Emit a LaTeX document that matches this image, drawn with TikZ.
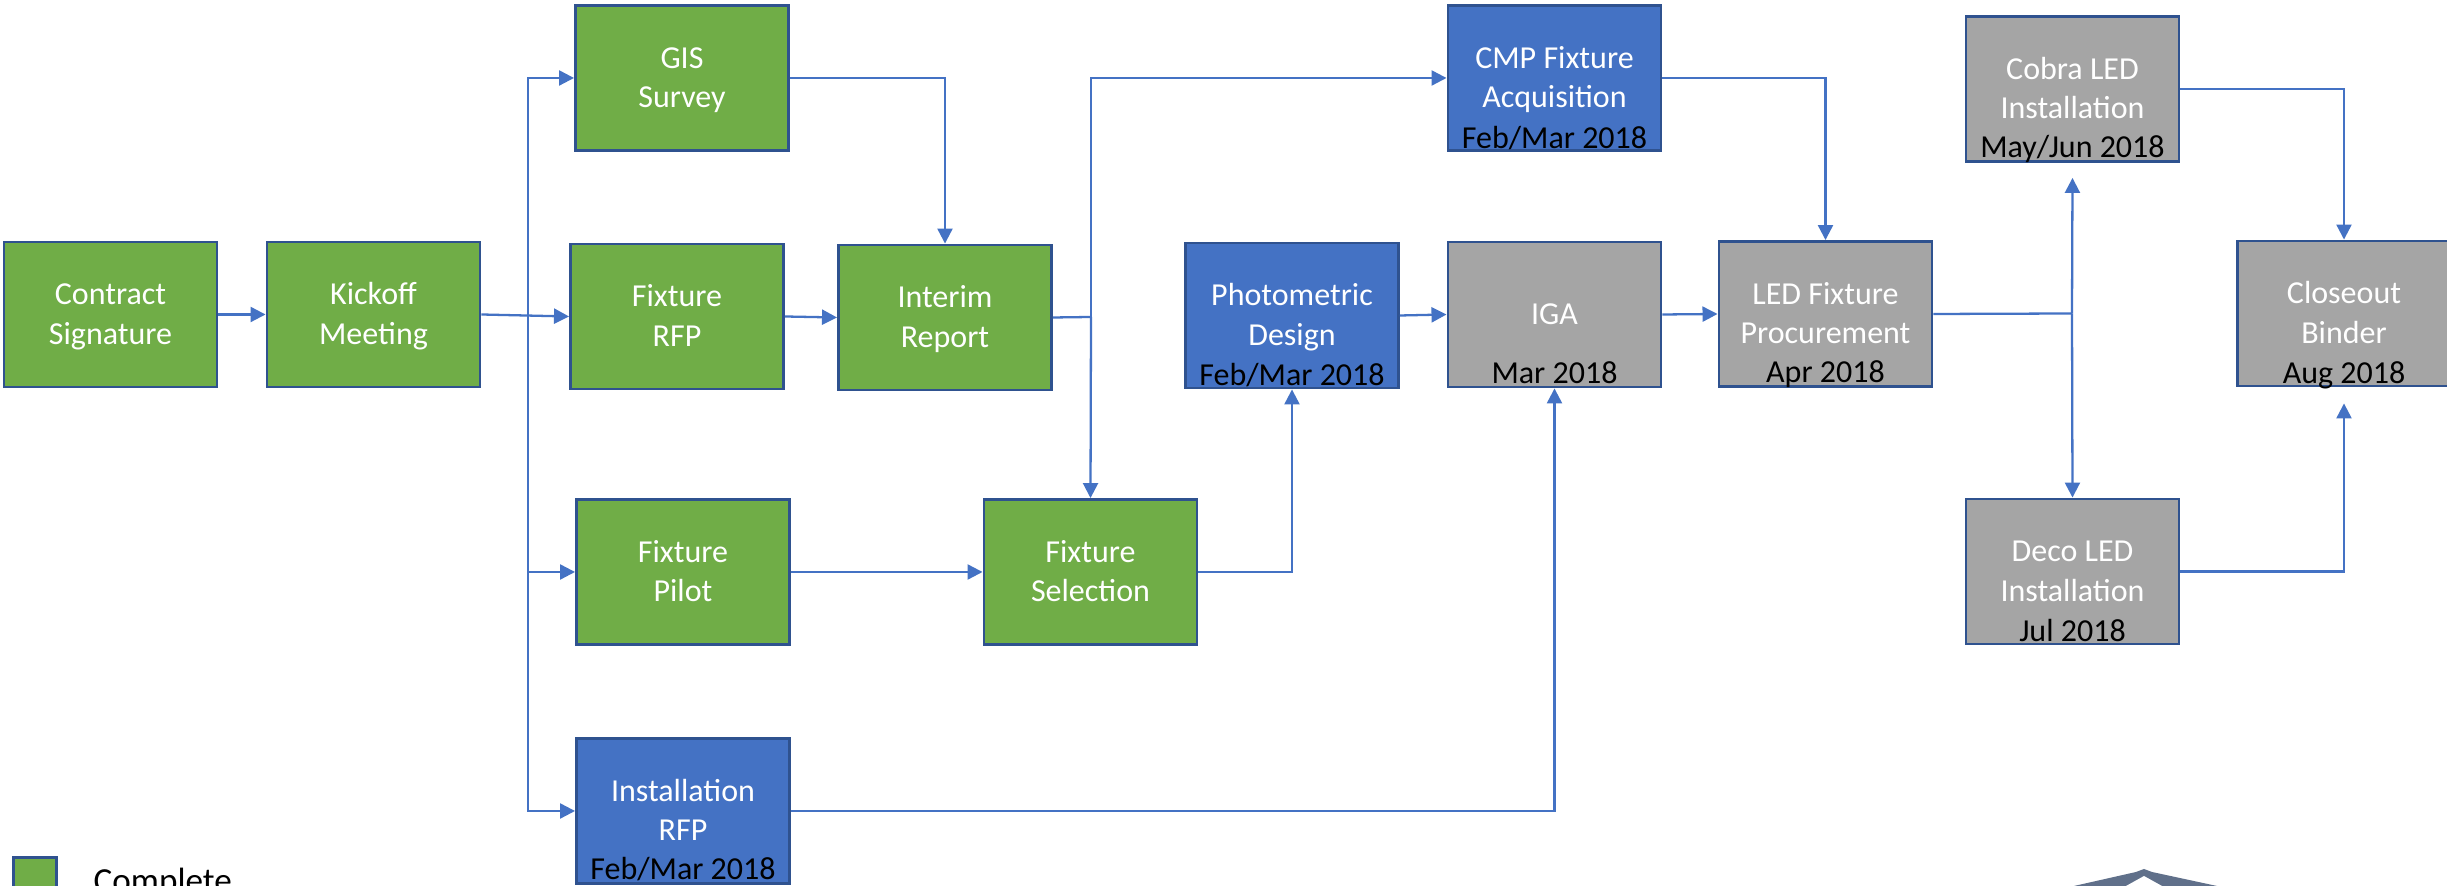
\documentclass[tikz,border=0pt]{standalone}
\usepackage{fontspec}
\setmainfont{Carlito}
\usetikzlibrary{arrows.meta,calc}
\definecolor{cgreen}{RGB}{112,173,71}
\definecolor{cblue}{RGB}{68,114,196}
\definecolor{cgray}{RGB}{165,165,165}
\definecolor{bdr}{RGB}{47,82,143}
\definecolor{cline}{RGB}{68,114,196}
\definecolor{logoc}{RGB}{96,112,138}
\newcommand\boxfont{\fontsize{9.1pt}{11.1pt}\selectfont}
\newcommand\legfont{\fontsize{10pt}{12pt}\selectfont}
\tikzset{
  basebox/.style={draw=bdr, line width=0.8pt, minimum width=2.13cm, minimum height=1.45cm,
    inner sep=0pt, align=center, text=white, font=\boxfont,
    text height=0.59cm, text depth=0cm},
  oneline/.style={text height=0.21cm, text depth=0cm},
  done/.style={basebox, fill=cgreen},
  prog/.style={basebox, fill=cblue},
  todo/.style={basebox, fill=cgray},
  datelab/.style={anchor=base, inner sep=0pt, text=black, font=\boxfont},
  conn/.style={draw=cline, line width=0.65pt},
  arr/.style={conn, -{Triangle[length=0.15cm,width=0.15cm]}},
}
\begin{document}
\begin{tikzpicture}[x=0.01cm,y=-0.01cm]
\fill[white] (0,0) rectangle (2447,886);
\clip (0,0) rectangle (2447,886);

% boxes
\node[done] (contract) at (110.5,314.5) {Contract\\Signature};
\node[done] (kickoff) at (373.5,314.5) {Kickoff\\Meeting};
\node[done] (gis) at (682,78) {GIS\\Survey};
\node[done] (rfp) at (677,316.5) {Fixture\\RFP};
\node[done] (interim) at (945,317.5) {Interim\\Report};
\node[done] (pilot) at (683,572) {Fixture\\Pilot};
\node[prog] (instrfp) at (683,811) {Installation\\RFP};
\node[done] (selection) at (1090.5,572) {Fixture\\Selection};
\node[prog] (photo) at (1292,315.5) {Photometric\\Design};
\node[prog] (cmp) at (1554.5,78) {CMP Fixture\\Acquisition};
\node[todo, oneline] (iga) at (1554.5,314.5) {IGA};
\node[todo] (led) at (1825.5,314) {LED Fixture\\Procurement};
\node[todo] (cobra) at (2072.5,89) {Cobra LED\\Installation};
\node[todo] (deco) at (2072.5,571.5) {Deco LED\\Installation};
\node[todo] (closeout) at (2344,313.5) {Closeout\\Binder};

% dates
\node[datelab] (instrfpd) at ([yshift=0.05cm]instrfp.south) {Feb/Mar 2018};
\node[datelab] (photod) at ([yshift=0.04cm]photo.south) {Feb/Mar 2018};
\node[datelab] (cmpd) at ([yshift=0.03cm]cmp.south) {Feb/Mar 2018};
\node[datelab] (igad) at ([yshift=0.05cm]iga.south) {Mar 2018};
\node[datelab] (ledd) at ([yshift=0.05cm]led.south) {Apr 2018};
\node[datelab] (cobrad) at ([yshift=0.05cm]cobra.south) {May/Jun 2018};
\node[datelab] (decod) at ([yshift=0.04cm]deco.south) {Jul 2018};
\node[datelab] (closeoutd) at ([yshift=0.04cm]closeout.south) {Aug 2018};

% junction coordinates
\coordinate (kx) at (528,315);
\coordinate (ix) at (1091,317);
\coordinate (lx) at (2072,313.5);
\coordinate (cobratip) at ($(cobra.south)+(0,15)$);
\coordinate (closetip) at ($(closeout.south)+(0,16)$);

% connectors
\draw[arr] (contract.east) -- (kickoff.west);
\draw[arr] (kickoff.east) -- (rfp.west);
\draw[arr] (kx) |- (gis.west);
\draw[arr] (kx) |- (pilot.west);
\draw[arr] (kx) |- (instrfp.west);
\draw[arr] (gis.east) -| (interim.north);
\draw[arr] (rfp.east) -- (interim.west);
\draw[conn] (interim.east) -- (ix);
\draw[arr] (ix) |- (cmp.west);
\draw[arr] (ix) -- (selection.north);
\draw[arr] (pilot.east) -- (selection.west);
\draw[arr] (selection.east) -| (photo.south);
\draw[arr] (photo.east) -- (iga.west);
\draw[arr] (instrfp.east) -| (iga.south);
\draw[arr] (iga.east) -- (led.west);
\draw[arr] (cmp.east) -| (led.north);
\draw[conn] (led.east) -- (lx);
\draw[arr] (lx) -- (cobratip);
\draw[arr] (lx) -- (deco.north);
\draw[arr] (cobra.east) -| (closeout.north);
\draw[arr] (deco.east) -| (closetip);

% legend
\node[draw=bdr, line width=0.8pt, fill=cgreen, minimum width=0.43cm, minimum height=0.43cm, inner sep=0pt, anchor=north west] (legsq) at (12,856) {};
\node[anchor=base west, inner sep=0pt, font=\legfont] (legtxt) at (93,893) {Complete};

% partial logo
\fill[logoc] (2074,886) -- (2136,872) -- (2144,869) -- (2152,872) -- (2217,886) -- cycle;
\fill[white] (2126,886) -- (2144,876) -- (2162,886) -- cycle;
\end{tikzpicture}
\end{document}
